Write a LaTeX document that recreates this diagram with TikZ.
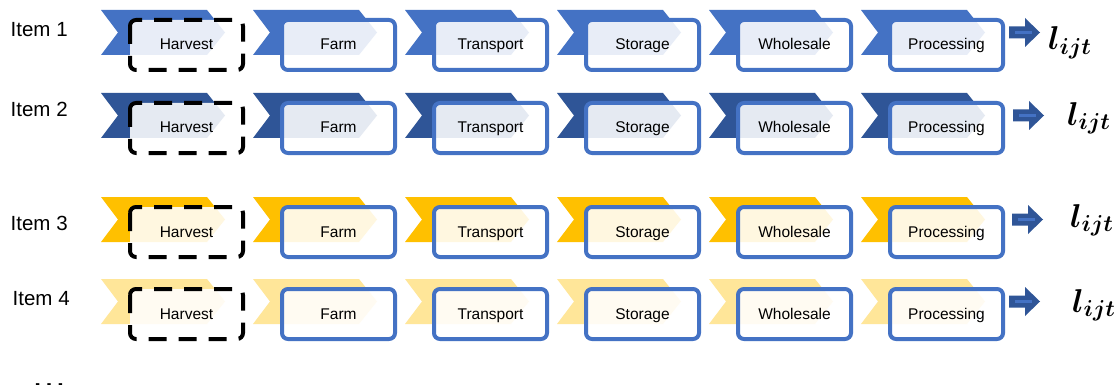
\RequirePackage{fix-cm}
\documentclass[tikz,border=0pt]{standalone}
\usepackage{fontspec}
\setmainfont{Liberation Sans}
\usepackage{bm}
\definecolor{blueA}{HTML}{4472C4}
\definecolor{blueB}{HTML}{2F5597}
\definecolor{goldA}{HTML}{FFC000}
\definecolor{goldB}{HTML}{FFE699}
\begin{document}
\begin{tikzpicture}[x=1pt,y=-1pt,
  stageframe/.style={draw=blueA, line width=4pt, rounded corners=6pt, fill=white, fill opacity=0.88},
  harvframe/.style={draw=black, line width=4pt, rounded corners=6pt, fill=white, fill opacity=0.88, dash pattern=on 18pt off 12pt},
  lab/.style={font=\fontsize{15.5}{18}\selectfont, anchor=base, inner sep=0pt},
  itemlab/.style={font=\fontsize{20.5}{24}\selectfont, anchor=base west, inner sep=0pt},
  lsym/.style={font=\fontsize{33}{33}\selectfont, anchor=base west, inner sep=0pt},
  blockarrow/.style={fill=blueB},
  arrowline/.style={draw=blueA, line width=3pt}]
\useasboundingbox (0,0) rectangle (1116,385);
\fill[white] (0,0) rectangle (1116,385);
\foreach \r/\ct/\col/\ax/\lx/\lb/\ix/\ib in {1/10/blueA/1009/1048/50/10.5/37, 2/93/blueB/1013/1067/125/10.5/117, 3/197/goldA/1012/1070/227/10.5/230, 4/279/goldB/1009/1072/312/12.5/305} {
  \node[itemlab] (item\r) at (\ix,\ib) {Item \r};
  \foreach \k/\nm in {0/Harvest,1/Farm,2/Transport,3/Storage,4/Wholesale,5/Processing} {
    \pgfmathsetmacro\xo{101+152*\k}
    \fill[\col] (\xo,\ct) -- ++(106,0) -- ++(18,22.5) -- ++(-18,22.5) -- ++(-106,0) -- ++(17,-22.5) -- cycle;
    \ifnum\k=0
      \path[harvframe] (\xo+29,\ct+10) rectangle (\xo+142,\ct+60);
    \else
      \path[stageframe] (\xo+29,\ct+10) rectangle (\xo+142,\ct+60);
    \fi
    \node[lab] (s\r\k) at (\xo+85.5,\ct+40) {\nm};
  }
  \pgfmathsetmacro\yc{\ct+22.5}
  \fill[blockarrow] (\ax,\yc-6) -- (\ax+16,\yc-6) -- (\ax+16,\yc-14.5) -- (\ax+31,\yc) -- (\ax+16,\yc+14.5) -- (\ax+16,\yc+6) -- (\ax,\yc+6) -- cycle;
  \draw[arrowline] (\ax+6,\yc) -- (\ax+23,\yc);
  \node[lsym] (l\r) at (\lx,\lb) {$\bm{l_{ijt}}$};
}
\node[font=\fontsize{36}{36}\selectfont, anchor=base west, inner sep=0pt] (dots) at (31,387) {…};
\end{tikzpicture}
\end{document}
